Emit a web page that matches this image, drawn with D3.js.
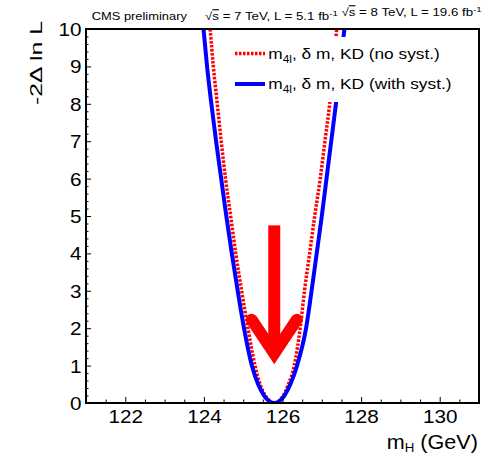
<!DOCTYPE html>
<html>
<head>
<meta charset="utf-8">
<script src="https://cdn.jsdelivr.net/npm/d3@7"></script>
<style>
  body { margin: 0; background: #fff; }
  svg { display: block; }
</style>
</head>
<body>
<svg id="chart" width="485" height="455"></svg>
<script>
// Likelihood scan of the Higgs boson mass, -2 Δln L vs m_H
const xDomain = [121, 131];
const yDomain = [0, 10];

// scan without systematic uncertainties
const massNoSyst = [124.16, 124.24, 124.34, 124.44, 124.55, 124.68, 124.81, 124.96, 125.12, 125.30, 125.43, 125.56, 125.79,
                    126.02, 126.15, 126.30, 126.45, 126.56, 126.69, 126.82, 126.96, 127.08, 127.20, 127.29, 127.38];
const nllNoSyst  = [10, 9, 8, 7, 6, 5, 4, 3, 2, 1, 0.5, 0.2, 0,
                    0.2, 0.5, 1, 2, 3, 4, 5, 6, 7, 8, 9, 10];

// scan with systematic uncertainties
const massWithSyst = [123.99, 124.08, 124.19, 124.31, 124.44, 124.57, 124.71, 124.86, 125.02, 125.22, 125.38, 125.53, 125.79,
                      126.05, 126.20, 126.37, 126.60, 126.74, 126.87, 127.00, 127.12, 127.24, 127.36, 127.47, 127.575];
const nllWithSyst  = [10, 9, 8, 7, 6, 5, 4, 3, 2, 1, 0.5, 0.2, 0,
                      0.2, 0.5, 1, 2, 3, 4, 5, 6, 7, 8, 9, 10];

// best-fit marker arrow (mass, from, to)
const arrowMass = 125.79;
const arrowFrom = 4.75;
const arrowTo = 0.95;

const xMajorTicks = [122, 124, 126, 128, 130];
const yMajorTicks = [0, 1, 2, 3, 4, 5, 6, 7, 8, 9, 10];
const legendLabels = ["(no syst.)", "(with syst.)"];
const sqrtsLabels = ["7 TeV", "8 TeV"];
const lumiLabels = ["5.1", "19.6"];

const FONT = '"Liberation Sans", Arial, Helvetica, sans-serif';
const STRETCH = 1.15;
const RED = "#ff0000", BLUE = "#0000ff";

const svg = d3.select("#chart");
const x = d3.scaleLinear().domain(xDomain).range([86, 479]);
const y = d3.scaleLinear().domain(yDomain).range([403, 29]);

// clip region = frame
svg.append("defs").append("clipPath").attr("id", "plot-clip")
  .append("rect")
  .attr("x", x(xDomain[0])).attr("y", y(yDomain[1]))
  .attr("width", x(xDomain[1]) - x(xDomain[0]))
  .attr("height", y(yDomain[0]) - y(yDomain[1]));

const line = d3.line()
  .x(d => x(d[0]))
  .y(d => y(d[1]))
  .curve(d3.curveMonotoneX);

const plot = svg.append("g").attr("clip-path", "url(#plot-clip)");

plot.append("path")
  .datum(d3.zip(massNoSyst, nllNoSyst))
  .attr("d", line)
  .attr("fill", "none")
  .attr("stroke", RED)
  .attr("stroke-width", 3.5)
  .attr("stroke-dasharray", "2.5,1.5");

plot.append("path")
  .datum(d3.zip(massWithSyst, nllWithSyst))
  .attr("d", line)
  .attr("fill", "none")
  .attr("stroke", BLUE)
  .attr("stroke-width", 4);

// stretch a text group horizontally so it spans [x0, x1]
function fitText(g, x0, x1, baseline) {
  const w = g.select("text").node().getComputedTextLength();
  g.attr("transform", `translate(${x0},${baseline}) scale(${(x1 - x0) / w},1)`);
}

// legend (opaque box)
svg.append("rect")
  .attr("x", 228).attr("y", 37).attr("width", 250).attr("height", 65)
  .attr("fill", "#fff");

const legendRows = [
  { label: legendLabels[0], color: RED, dash: "2.5,1.5", width: 3.5, yLine: 53.5, base: 58.5, end: 440 },
  { label: legendLabels[1], color: BLUE, dash: null, width: 4, yLine: 84, base: 88.5, end: 451.7 }
];
legendRows.forEach(r => {
  svg.append("line")
    .attr("x1", 235).attr("x2", 265)
    .attr("y1", r.yLine).attr("y2", r.yLine)
    .attr("stroke", r.color).attr("stroke-width", r.width)
    .attr("stroke-dasharray", r.dash);
  const g = svg.append("g");
  const t = g.append("text")
    .attr("font-family", FONT).attr("font-size", 14.5).attr("fill", "#000");
  t.append("tspan").text("m");
  t.append("tspan").attr("font-size", 10).attr("dy", 4).text("4l");
  t.append("tspan").attr("dy", -4).text(", \u03b4 m, KD " + r.label);
  fitText(g, 268.3, r.end, r.base);
});

// best-fit arrow
const ax = x(arrowMass);
const tipY = y(arrowTo);
const headW = 12, miter = 14, halfSpan = 22.5, wingRise = 33.7;
const vertexY = tipY - miter;
const arrow = svg.append("g").attr("fill", RED).attr("stroke", RED);
arrow.append("rect")
  .attr("x", ax - headW / 2).attr("y", y(arrowFrom))
  .attr("width", headW).attr("height", vertexY - y(arrowFrom))
  .attr("stroke", "none");
arrow.append("path")
  .attr("d", `M${ax - halfSpan},${vertexY - wingRise} L${ax},${vertexY} L${ax + halfSpan},${vertexY - wingRise}`)
  .attr("fill", "none")
  .attr("stroke-width", headW)
  .attr("stroke-linecap", "round")
  .attr("stroke-linejoin", "miter")
  .attr("stroke-miterlimit", 4);

// axes: minor ticks
const xMinor = d3.range(121, 131.01, 0.5).filter(v => !xMajorTicks.includes(v));
const yMinor = d3.range(0, 10.01, 0.2).map(v => +v.toFixed(1)).filter(v => !yMajorTicks.includes(v));

const xMinorAxis = svg.append("g").attr("transform", `translate(0,${y(0)})`)
  .call(d3.axisBottom(x).tickValues(xMinor).tickSize(-3.5).tickFormat(""));
const xAxis = svg.append("g").attr("transform", `translate(0,${y(0)})`)
  .call(d3.axisBottom(x).tickValues(xMajorTicks).tickSize(-6).tickPadding(7).tickFormat(d3.format("d")));
const yMinorAxis = svg.append("g").attr("transform", `translate(${x(121)},0)`)
  .call(d3.axisLeft(y).tickValues(yMinor).tickSize(-2.5).tickFormat(""));
const yAxis = svg.append("g").attr("transform", `translate(${x(121)},0)`)
  .call(d3.axisLeft(y).tickValues(yMajorTicks).tickSize(-5).tickPadding(4).tickFormat(d3.format("d")));

[xMinorAxis, xAxis, yMinorAxis, yAxis].forEach(a => {
  a.select(".domain").remove();
  a.selectAll(".tick line").attr("stroke", "#000").attr("stroke-width", 1);
});
[xAxis, yAxis].forEach(a => {
  a.selectAll(".tick text")
    .attr("font-family", FONT).attr("font-size", 18).attr("fill", "#000")
    .attr("transform", `scale(${STRETCH},1)`);
});
yAxis.selectAll(".tick text").attr("dy", "0.36em");

// frame
svg.append("rect")
  .attr("x", x(xDomain[0])).attr("y", y(yDomain[1]))
  .attr("width", x(xDomain[1]) - x(xDomain[0]))
  .attr("height", y(yDomain[0]) - y(yDomain[1]))
  .attr("fill", "none").attr("stroke", "#000").attr("stroke-width", 2);

// axis titles
const xt = svg.append("g");
const xtt = xt.append("text").attr("font-family", FONT).attr("font-size", 19.5).attr("fill", "#000");
xtt.append("tspan").text("m");
xtt.append("tspan").attr("font-size", 12).attr("dy", 3).text("H");
xtt.append("tspan").attr("dy", -3).text(" (GeV)");
fitText(xt, 386.7, 478, 449);

svg.append("text")
  .attr("transform", "translate(42,105) rotate(-90)")
  .attr("font-family", FONT).attr("font-size", 16).attr("fill", "#000")
  .attr("textLength", 84).attr("lengthAdjust", "spacingAndGlyphs")
  .text("-2\u0394 ln L");

// header
const h1 = svg.append("g");
h1.append("text").attr("font-family", FONT).attr("font-size", 11).attr("fill", "#000").text("CMS preliminary");
fitText(h1, 91.7, 187, 20);

const h2 = svg.append("g");
const ht = h2.append("text").attr("font-family", FONT).attr("font-size", 11).attr("fill", "#000");
sqrtsLabels.forEach((e, i) => {
  ht.append("tspan").text((i ? " " : "") + "\u221a");
  ht.append("tspan").style("text-decoration", "overline").text("s");
  ht.append("tspan").text(` = ${e}, L = ${lumiLabels[i]} fb`);
  ht.append("tspan").attr("font-size", 8).attr("dy", -4).text("-1");
  ht.append("tspan").attr("dy", 4).text("");
});
fitText(h2, 205, 482, 20);
</script>
</body>
</html>
